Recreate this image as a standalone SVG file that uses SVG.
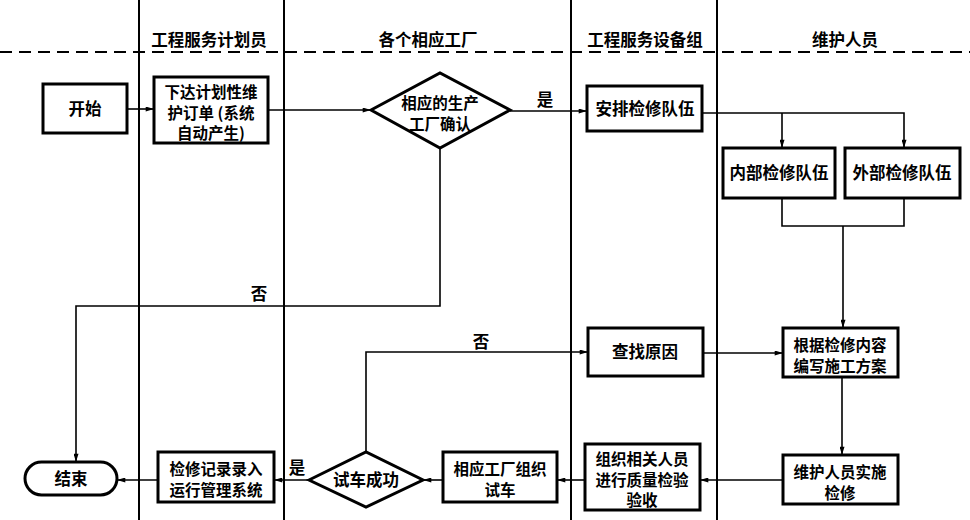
<svg xmlns="http://www.w3.org/2000/svg" width="970" height="520" viewBox="0 0 970 520">
<style>
.lane{stroke:#000;stroke-width:2;fill:none}
.dash{stroke:#000;stroke-width:2;stroke-dasharray:12,7;fill:none}
.box{fill:#fff;stroke:#000;stroke-width:3}
.c{stroke:#000;stroke-width:1.6;fill:none}
text{font-family:"Noto Sans CJK SC","Noto Sans",sans-serif;font-weight:bold;font-size:16.5px;fill:#000;text-anchor:middle}
.m{font-size:15.5px}
</style>
<defs>
<marker id="a" viewBox="0 0 10 6" refX="10" refY="3" markerWidth="9" markerHeight="5" markerUnits="userSpaceOnUse" orient="auto">
<path d="M0,0 L10,3 L0,6 Z" fill="#000"/>
</marker>
</defs>
<rect width="970" height="520" fill="#fff"/>
<g id="lanes">
<line class="lane" x1="139" y1="0" x2="139" y2="520"/>
<line class="lane" x1="284" y1="0" x2="284" y2="520"/>
<line class="lane" x1="571" y1="0" x2="571" y2="520"/>
<line class="lane" x1="717" y1="0" x2="717" y2="520"/>
<line class="dash" x1="0" y1="52" x2="970" y2="52"/>
<text x="209" y="46">工程服务计划员</text>
<text x="428" y="46">各个相应工厂</text>
<text x="645" y="46">工程服务设备组</text>
<text x="845" y="46">维护人员</text>
</g>
<g id="connectors">
<line class="c" x1="127" y1="109" x2="154" y2="109" marker-end="url(#a)"/>
<line class="c" x1="268" y1="110" x2="371" y2="110" marker-end="url(#a)"/>
<line class="c" x1="510" y1="111" x2="587" y2="111" marker-end="url(#a)"/>
<text x="545" y="106">是</text>
<polyline class="c" points="702,113 904,113 904,148" marker-end="url(#a)"/>
<line class="c" x1="782" y1="113" x2="782" y2="148" marker-end="url(#a)"/>
<polyline class="c" points="782,198 782,226 904,226 904,198"/>
<line class="c" x1="843" y1="226" x2="843" y2="328" marker-end="url(#a)"/>
<line class="c" x1="842" y1="378" x2="842" y2="455" marker-end="url(#a)"/>
<line class="c" x1="783" y1="480" x2="700" y2="480" marker-end="url(#a)"/>
<line class="c" x1="585" y1="480" x2="557" y2="480" marker-end="url(#a)"/>
<line class="c" x1="443" y1="480" x2="423" y2="480" marker-end="url(#a)"/>
<line class="c" x1="309" y1="480" x2="274" y2="480" marker-end="url(#a)"/>
<text x="297" y="474">是</text>
<line class="c" x1="158" y1="480" x2="117" y2="480" marker-end="url(#a)"/>
<polyline class="c" points="366,452 366,352 588,352" marker-end="url(#a)"/>
<text x="481" y="348">否</text>
<line class="c" x1="703" y1="353" x2="783" y2="353" marker-end="url(#a)"/>
<polyline class="c" points="440,148 440,306 76,306 76,462" marker-end="url(#a)"/>
<text x="259" y="300">否</text>
</g>
<g id="start">
<rect class="box" x="43" y="84" width="84" height="49"/>
<text x="85" y="115">开始</text>
</g>
<g id="order">
<rect class="box" x="154" y="77" width="114" height="66"/>
<text class="m" x="211" y="98">下达计划性维</text>
<text class="m" x="211" y="118.5">护订单 (系统</text>
<text class="m" x="211" y="139">自动产生)</text>
</g>
<g id="confirm">
<polygon class="box" points="371,110 440,73 510,110 440,148"/>
<text class="m" x="440" y="109">相应的生产</text>
<text class="m" x="440" y="130">工厂确认</text>
</g>
<g id="arrange">
<rect class="box" x="587" y="86" width="115" height="45"/>
<text x="645" y="115">安排检修队伍</text>
</g>
<g id="internal">
<rect class="box" x="723" y="148" width="112" height="50"/>
<text x="779" y="179">内部检修队伍</text>
</g>
<g id="external">
<rect class="box" x="845" y="148" width="115" height="50"/>
<text x="902" y="179">外部检修队伍</text>
</g>
<g id="plan">
<rect class="box" x="783" y="328" width="115" height="49"/>
<text class="m" x="840" y="350.5">根据检修内容</text>
<text class="m" x="840" y="371.5">编写施工方案</text>
</g>
<g id="cause">
<rect class="box" x="588" y="328" width="115" height="48"/>
<text x="645" y="358">查找原因</text>
</g>
<g id="execute">
<rect class="box" x="783" y="455" width="115" height="49"/>
<text class="m" x="840" y="477.5">维护人员实施</text>
<text class="m" x="840" y="498.5">检修</text>
</g>
<g id="inspect">
<rect class="box" x="585" y="444" width="115" height="66"/>
<text class="m" x="642" y="465">组织相关人员</text>
<text class="m" x="642" y="485.5">进行质量检验</text>
<text class="m" x="642" y="506">验收</text>
</g>
<g id="trial">
<rect class="box" x="443" y="452" width="114" height="50"/>
<text class="m" x="500" y="475">相应工厂组织</text>
<text class="m" x="500" y="496">试车</text>
</g>
<g id="success">
<polygon class="box" points="309,480 366,452 423,480 366,507"/>
<text x="366" y="486">试车成功</text>
</g>
<g id="record">
<rect class="box" x="158" y="452" width="116" height="50"/>
<text class="m" x="216" y="475">检修记录录入</text>
<text class="m" x="216" y="496">运行管理系统</text>
</g>
<g id="end">
<rect class="box" x="25" y="462" width="92" height="33" rx="16.5" ry="16.5"/>
<text x="71" y="485">结束</text>
</g>
</svg>
